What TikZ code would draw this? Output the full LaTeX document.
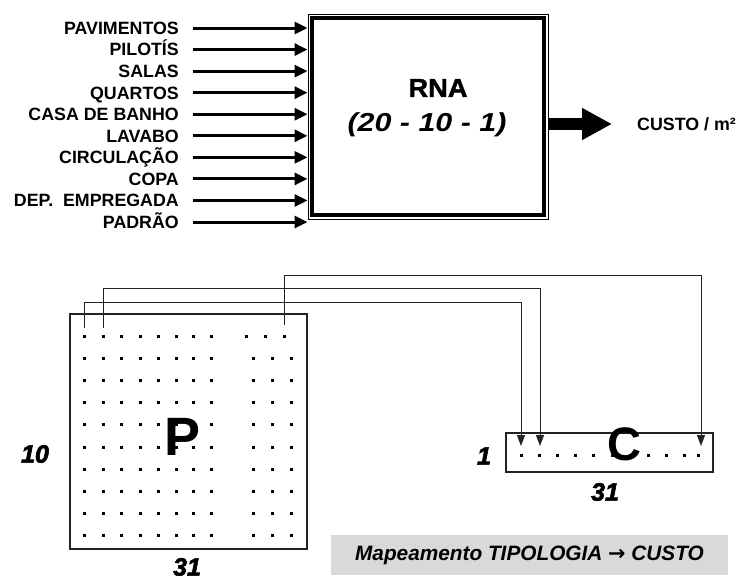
\documentclass[tikz,border=0pt]{standalone}
\usepackage{graphicx}
\usepackage{fontspec}
\setmainfont{Liberation Sans}
\newfontfamily\heavyfont{Liberation Sans}[BoldFeatures={FakeBold=3},BoldItalicFeatures={FakeBold=2.5}]
\newfontfamily\rnafont{Liberation Sans}[BoldFeatures={FakeBold=1.5}]
\newfontfamily\arrowfont{DejaVu Sans}
\usetikzlibrary{arrows.meta,calc}
\definecolor{capgray}{RGB}{217,217,217}
\definecolor{linegray}{RGB}{35,35,35}
\begin{document}
\begin{tikzpicture}[x=1pt,y=-1pt,
  lab/.style={anchor=east, inner sep=0pt, font=\bfseries\fontsize{17.8}{20}\selectfont, text height=12.7pt, text depth=0pt},
  inarrow/.style={line width=3pt, -{Triangle[length=13pt,width=12pt]}},
  conn/.style={draw=linegray, line width=1pt, -{Triangle[length=11pt,width=8pt]}},
  boxline/.style={draw=linegray, line width=1.2pt, inner sep=0pt},
  heavynum/.style={inner sep=0pt, font=\heavyfont\bfseries\itshape\fontsize{25}{30}\selectfont},
  dotsq/.style={fill=black}]
\useasboundingbox (0,0) rectangle (740,576);

% ---- RNA box ----
\node[draw, line width=1pt, minimum width=240pt, minimum height=205pt, inner sep=0pt] (rna) at (428,116.5) {};
\draw[line width=3.5pt] ([shift={(4.5,4.5)}]rna.north west) rectangle ([shift={(-4.5,-4.5)}]rna.south east);
\node[font=\rnafont\bfseries\fontsize{26}{28}\selectfont, inner sep=0pt] (rnatitle) at (438,88) {\scalebox{1.05}[1]{RNA}};
\node[font=\bfseries\itshape\fontsize{26}{30}\selectfont, inner sep=0pt] (rnasub) at (427,125) {\scalebox{1.17}[1]{(20 - 10 - 1)}};

% ---- inputs ----
\foreach \t [count=\i from 0] in {PAVIMENTOS, PILOTÍS, SALAS, QUARTOS, CASA DE BANHO, LAVABO, CIRCULAÇÃO, COPA, DEP.\ \ EMPREGADA, PADRÃO} {
  \node[lab] (l\i) at (179,{28+21.56*\i}) {\t};
  \draw[inarrow] ($(l\i.east)+(14,0)$) -- (l\i.east -| rna.west);
}

% ---- output ----
\coordinate (outtip) at (612,124);
\draw[line width=12pt, -{Triangle[length=30pt,width=30pt]}] (rna.east |- outtip) -- (outtip);
\node[anchor=west, inner sep=0pt, font=\bfseries\fontsize{17.8}{20}\selectfont] (custo) at (637,124) {CUSTO / m²};

% ---- P matrix ----
\node[boxline, minimum width=237pt, minimum height=235pt] (pbox) at (188.5,431.5) {};
\foreach \r in {0,...,9} {
  \foreach \c in {84,103.3,121.7,140,158.3,176.7,193.3,211.7} {
    \fill[dotsq] ({\c-1.5},{336+22.2*\r-1.5}) rectangle ++(3,3);
  }
}
\foreach \c in {246.7,265.7,284.3} {\fill[dotsq] ({\c-1.5},{334.5}) rectangle ++(3,3);}
\foreach \r in {1,...,9} {
  \foreach \c in {253.3,272.7,291.7} {
    \fill[dotsq] ({\c-1.5},{336+22.2*\r-1.5}) rectangle ++(3,3);
  }
}
\node[font=\bfseries\fontsize{54}{60}\selectfont, inner sep=0pt] (P) at (183,437) {P};
\node[heavynum] (n10) at (35,454) {10};
\node[heavynum] (n31a) at (187,567) {31};

% ---- C vector ----
\node[boxline, minimum width=207pt, minimum height=39pt] (cbox) at (609.5,452.5) {};
\foreach \c in {521,539.2,557.4,575.6,593.8,612,630.2,648.4,666.6,684.8,698} {
  \fill[dotsq] ({\c-1.5},453.5) rectangle ++(3,3);
}
\node[font=\bfseries\fontsize{47}{52}\selectfont, inner sep=0pt] (C) at (624,444) {C};
\node[heavynum] (n1) at (484,456) {1};
\node[heavynum] (n31b) at (605,492) {31};

% ---- connectors ----
\coordinate (s1) at (84,328);
\coordinate (s2) at (103.3,328);
\coordinate (s3) at (284.3,325);
\coordinate (k1) at (521,302);
\coordinate (k2) at (540,288);
\coordinate (k3) at (701,275);
\coordinate (t1) at (521,446);
\coordinate (t2) at (540,446);
\coordinate (t3) at (701,446);
\draw[conn] (s1) |- (k1) -- (t1);
\draw[conn] (s2) |- (k2) -- (t2);
\draw[conn] (s3) |- (k3) -- (t3);

% ---- caption ----
\node[fill=capgray, minimum width=397pt, minimum height=40pt, inner sep=0pt,
      font=\bfseries\itshape\fontsize{20.8}{24}\selectfont] (cap) at (529.5,555)
  {Mapeamento TIPOLOGIA {\arrowfont\bfseries →} CUSTO};
\end{tikzpicture}
\end{document}
